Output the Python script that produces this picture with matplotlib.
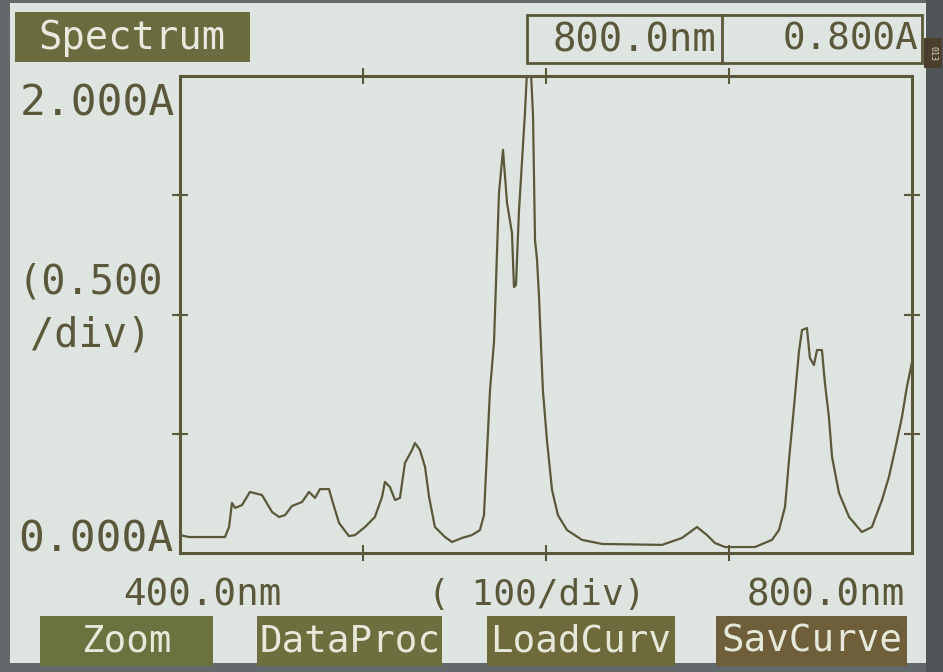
import matplotlib.pyplot as plt
from matplotlib.patches import Rectangle

# Spectrum trace (wavelength in nm, absorbance in A)
wavelength = [400.0, 404.9, 424.6, 426.8, 428.4, 430.1, 433.9, 438.2, 444.8, 450.3,
              454.1, 457.4, 461.2, 466.7, 470.5, 473.8, 476.5, 481.4, 483.1, 486.9,
              492.3, 495.6, 501.1, 506.5, 510.4, 512.0, 514.7, 517.5, 520.2, 522.9,
              526.8, 528.4, 531.1, 533.9, 536.1, 539.3, 544.8, 548.6, 554.1, 559.5,
              563.9, 566.1, 569.4, 571.6, 574.3, 576.5, 578.7, 581.4, 582.5, 583.6,
              585.2, 588.5, 590.7, 592.9, 594.0, 595.1, 596.2, 597.3, 598.3, 600.5,
              603.3, 606.5, 611.5, 619.7, 630.6, 663.4, 674.3, 682.5, 688.0, 692.3,
              697.8, 714.2, 723.5, 727.3, 730.6, 732.8, 735.5, 738.2, 739.9, 742.6,
              744.2, 746.4, 748.1, 750.8, 752.4, 754.6, 756.3, 760.1, 765.6, 772.6,
              778.1, 783.6, 787.4, 790.7, 794.5, 797.2, 800.0]
absorbance = [0.075, 0.067, 0.067, 0.109, 0.210, 0.189, 0.201, 0.256, 0.243, 0.172,
              0.151, 0.159, 0.197, 0.214, 0.256, 0.231, 0.268, 0.268, 0.222, 0.126,
              0.071, 0.075, 0.109, 0.151, 0.235, 0.298, 0.277, 0.222, 0.231, 0.377,
              0.432, 0.461, 0.432, 0.361, 0.235, 0.109, 0.067, 0.046, 0.063, 0.075,
              0.096, 0.159, 0.683, 0.885, 1.509, 1.690, 1.468, 1.342, 1.115, 1.124,
              1.430, 1.845, 2.190, 1.837, 1.312, 1.229, 1.073, 0.864, 0.683, 0.474,
              0.264, 0.159, 0.096, 0.055, 0.038, 0.034, 0.063, 0.109, 0.075, 0.042,
              0.025, 0.025, 0.055, 0.096, 0.193, 0.390, 0.612, 0.843, 0.935, 0.943,
              0.818, 0.788, 0.851, 0.851, 0.713, 0.570, 0.403, 0.252, 0.151, 0.088,
              0.109, 0.222, 0.319, 0.432, 0.570, 0.696, 0.800]

x_ticks = [500, 600, 700]
y_ticks = [0.5, 1.0, 1.5]
buttons = ['Zoom', 'DataProc', 'LoadCurv', 'SavCurve']
cursor_nm = '800.0nm'
cursor_abs = '0.800A'

W, H = 943, 672
ink = '#5b573a'
lcd = '#dee4df'
mono = 'DejaVu Sans Mono'

fig = plt.figure(figsize=(W / 100, H / 100), dpi=100, facecolor='#63686b')


def fx(x):
    return x / W


def fy(y):
    return 1 - y / H


def box(x0, y0, x1, y1, z=1, **kw):
    fig.patches.append(Rectangle((fx(x0), fy(y1)), fx(x1) - fx(x0), fy(y0) - fy(y1),
                                 transform=fig.transFigure, zorder=z, **kw))


def label(x, y, s, ha='left', size=27, color=ink):
    fig.text(fx(x), fy(y), s, ha=ha, va='center', fontsize=size,
             family=mono, color=color, zorder=5)


# screen area
box(10, 3, 926, 663, z=-2, facecolor=lcd, edgecolor='none')
box(926, 0, 943, 672, z=-2, facecolor='#4f5457', edgecolor='none')

# header
box(15, 12, 250, 62, facecolor='#6a6b3f', edgecolor='none')
label(132, 38, 'Spectrum', ha='center', size=28, color='#e6e9dc')
box(527, 15, 922, 63, facecolor='none', edgecolor=ink, linewidth=2)
fig.lines.append(plt.Line2D([fx(722), fx(722)], [fy(15), fy(63)],
                            transform=fig.transFigure, color=ink, linewidth=2))
label(716, 40, cursor_nm, ha='right', size=28)
label(918, 40, cursor_abs, ha='right', size=27)
box(924, 38, 942, 68, facecolor='#4a3f2c', edgecolor='none')
fig.text(fx(933), fy(53), '013', rotation=-90, ha='center', va='center',
         fontsize=6, family=mono, color='#d8d4c0')

# plot area
ax = fig.add_axes([fx(180), fy(553), fx(912) - fx(180), fy(76) - fy(553)])
ax.set_zorder(3)
ax.patch.set_alpha(0)
ax.plot(wavelength, absorbance, color=ink, linewidth=1.6)
ax.set_xlim(400, 800)
ax.set_ylim(0, 2.0)
ax.set_xticks(x_ticks)
ax.set_yticks(y_ticks)
ax.tick_params(direction='inout', length=11, width=1.5, color=ink,
               top=True, right=True, labelbottom=False, labelleft=False)
for sp in ax.spines.values():
    sp.set_color(ink)
    sp.set_linewidth(2.2)

# axis captions
label(20, 103, '2.000A', size=31)
label(18, 282, '(0.500', size=29)
label(30, 336, '/div)', size=29)
label(18, 540, '0.000A', size=31)
label(202, 595, '400.0nm', ha='center', size=27)
label(537, 595, '( 100/div)', ha='center', size=26)
label(905, 595, '800.0nm', ha='right', size=27)

# soft keys
keys = [(40, 213, '#6c7140'), (257, 442, '#6d6f3e'),
        (487, 675, '#6f6a3b'), (716, 907, '#6e5e3a')]
for (k0, k1, c), name in zip(keys, buttons):
    box(k0, 616, k1, 666, facecolor=c, edgecolor='none')
    label((k0 + k1) / 2, 641, name, ha='center', size=27, color='#e6e8da')

fig.savefig('out.png', dpi=100, facecolor=fig.get_facecolor())
